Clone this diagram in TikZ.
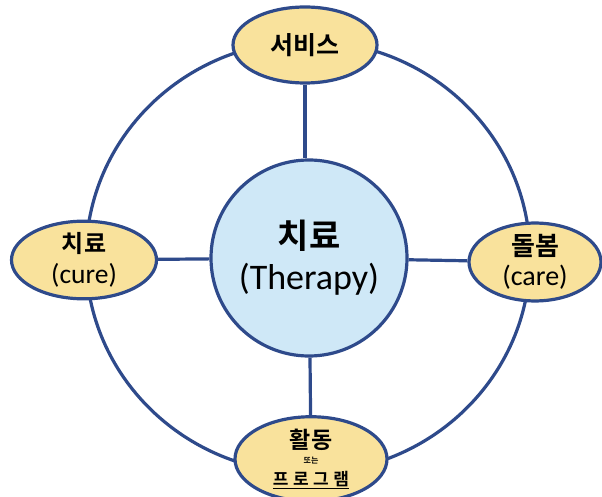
\documentclass[tikz,border=0pt]{standalone}
\usepackage{fontspec}
\setmainfont{Carlito}
\newfontfamily\kr{Noto Sans CJK KR}[BoldFont={Noto Sans CJK KR Bold}]
\usepackage{tikz}
\usetikzlibrary{shapes.geometric}
\definecolor{ringblue}{HTML}{2E4A8B}
\definecolor{petal}{HTML}{F9E29C}
\definecolor{core}{HTML}{CFE8F7}
\tikzstyle{petalnode} = [ellipse, draw=ringblue, fill=petal, line width=3.2pt, inner sep=0pt, align=center]
\tikzstyle{spoke} = [-, draw=ringblue, line width=3.2pt]

\begin{document}
\begin{tikzpicture}[x=1pt, y=-1pt]
\useasboundingbox (0,0) rectangle (602,497);
% outer ring
\draw [draw=ringblue, line width=3.2pt] (308,257) ellipse [x radius=222, y radius=216];
\node [circle, draw=ringblue, fill=core, line width=3.2pt, minimum size=196pt, inner sep=0pt, align=center,
  font=\fontsize{34}{41}\selectfont] (therapy) at (309, 258)
  {{\kr\bfseries 치료}\\{\fontsize{36}{41}\selectfont (Therapy)}};
\node [petalnode, minimum width=144pt, minimum height=76pt, font=\fontsize{25}{30}\selectfont] (service) at (305, 45)
  {{\kr\bfseries 서비스}};
\node [petalnode, minimum width=145pt, minimum height=76pt, font=\fontsize{24}{31}\selectfont] (cure) at (84, 260)
  {{\kr\bfseries 치료}\\{\fontsize{27.5}{31}\selectfont (cure)}};
\node [petalnode, minimum width=132pt, minimum height=75pt, font=\fontsize{26}{30}\selectfont] (care) at (535, 262)
  {{\kr\bfseries 돌봄}\\{\fontsize{28}{30}\selectfont (care)}};
\node [petalnode, minimum width=152pt, minimum height=82pt, font=\fontsize{8}{15}\selectfont] (program) at (311, 459)
  {{\kr\bfseries\fontsize{23}{15}\selectfont 활동}\\{\kr\bfseries\fontsize{8}{15}\selectfont 또는}\\[7pt]{\kr\bfseries\fontsize{17}{15}\selectfont \underline{프\hspace{4.5pt}로\hspace{4.5pt}그\hspace{4.5pt}램}}};
\draw [spoke] (service.south) -- (therapy.north -| service.south);
\draw [spoke] (cure) to (therapy);
\draw [spoke] (therapy) to (care);
\draw [spoke] (therapy) to (program);
\end{tikzpicture}
\end{document}
